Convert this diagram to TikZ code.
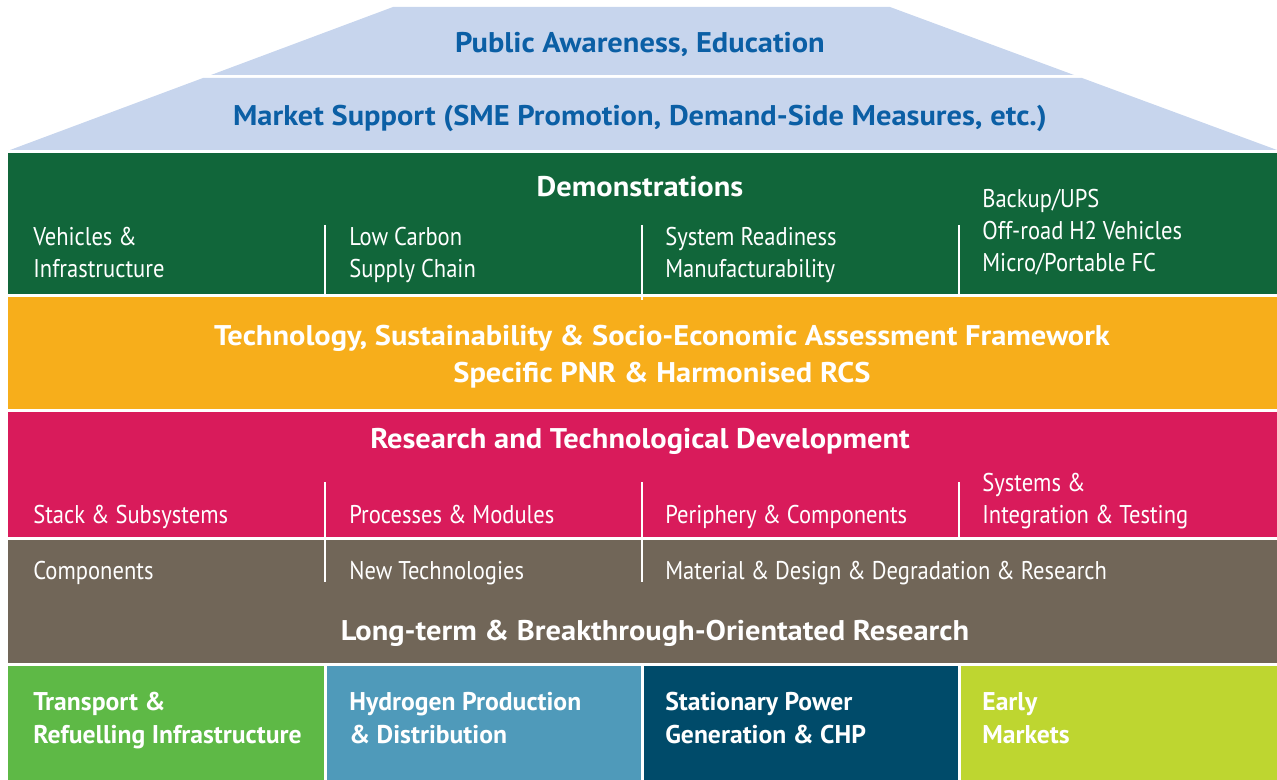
\documentclass[tikz,border=0pt]{standalone}
\usepackage{fontspec}
\setmainfont{PT Sans}[FakeStretch=0.88]
\newfontfamily\headfont{PT Sans}[FakeStretch=1.07]
\newfontfamily\areafont{PT Sans}
\definecolor{roofblue}{HTML}{C7D5ED}
\definecolor{rooftext}{HTML}{0B5FA5}
\definecolor{demogreen}{HTML}{11663A}
\definecolor{assessorange}{HTML}{F7AE1B}
\definecolor{rtdred}{HTML}{D91B5B}
\definecolor{ltbrown}{HTML}{716658}
\definecolor{transgreen}{HTML}{5EB946}
\definecolor{hydroblue}{HTML}{4F9ABA}
\definecolor{statblue}{HTML}{004B6A}
\definecolor{earlylime}{HTML}{BED630}
\begin{document}
\begin{tikzpicture}[x=0.02cm,y=-0.02cm,
    cell/.style={anchor=west,align=left,inner sep=0pt,text=white,text depth=0pt,
      font=\fontsize{14.6}{18.2}\selectfont},
    head/.style={inner sep=0pt,text=white,align=center,
      font=\headfont\bfseries\fontsize{16.2}{21}\selectfont},
    rooflabel/.style={head,text=rooftext},
    area/.style={cell,font=\areafont\bfseries\fontsize{14.6}{18.8}\selectfont},
    divider/.style={white,line width=1.1pt}]
  \useasboundingbox (0,0) rectangle (1277,780);
  % roof
  \fill[roofblue] (393,7) -- (890,7) -- (1074,75) -- (211,75) -- cycle;
  \fill[roofblue] (203,78) -- (1082,78) -- (1277,150) -- (10,150) -- cycle;
  \node[rooflabel] (aware) at (640,44) {Public Awareness, Education};
  \node[rooflabel] (market) at (640,118) {Market Support (SME Promotion, Demand-Side Measures, etc.)};
  % bands
  \fill[demogreen] (8,153) rectangle (1277,294);
  \fill[assessorange] (8,297) rectangle (1277,409);
  \fill[rtdred] (8,412) rectangle (1277,537);
  \fill[ltbrown] (8,540) rectangle (1277,663);
  % application areas
  \fill[transgreen] (8,666) rectangle (324,780);
  \fill[hydroblue] (327,666) rectangle (641,780);
  \fill[statblue] (644,666) rectangle (958,780);
  \fill[earlylime] (961,666) rectangle (1277,780);
  % demonstrations
  \node[head] (demo) at (640,187) {Demonstrations};
  \node[cell] (veh) at (33,252) {Vehicles \&\\Infrastructure};
  \node[cell] (lowc) at (349,252) {Low Carbon\\Supply Chain};
  \node[cell] (sysr) at (665,252) {System Readiness\\Manufacturability};
  \node[cell] (backup) at (982,230) {Backup/UPS\\Off-road H2 Vehicles\\Micro/Portable FC};
  \draw[divider] (325,225) -- (325,294);
  \draw[divider] (642,225) -- (642,300);
  \draw[divider] (959,225) -- (959,294);
  % assessment framework
  \node[head] (assess) at (662,357) {Technology, Sustainability \& Socio-Economic Assessment Framework\\Specific PNR \& Harmonised RCS};
  % research and development
  \node[head] (rtd) at (640,441) {Research and Technological Development};
  \node[cell] (stack) at (33,514) {Stack \& Subsystems};
  \node[cell] (proc) at (349,514) {Processes \& Modules};
  \node[cell] (peri) at (665,514) {Periphery \& Components};
  \node[cell] (integ) at (982,498) {Systems \&\\Integration \& Testing};
  \draw[divider] (325,482) -- (325,582);
  \draw[divider] (642,482) -- (642,582);
  \draw[divider] (959,482) -- (959,537);
  % long-term research
  \node[cell] (comp) at (33,570) {Components};
  \node[cell] (newt) at (349,570) {New Technologies};
  \node[cell] (mat) at (665,570) {Material \& Design \& Degradation \& Research};
  \node[head] (longt) at (655,633) {Long-term \& Breakthrough-Orientated Research};
  % application areas
  \node[area] (trans) at (33,718) {Transport \&\\Refuelling Infrastructure};
  \node[area] (hydro) at (349,718) {Hydrogen Production\\\& Distribution};
  \node[area] (stat) at (665,718) {Stationary Power\\Generation \& CHP};
  \node[area] (early) at (982,718) {Early\\Markets};
\end{tikzpicture}
\end{document}
